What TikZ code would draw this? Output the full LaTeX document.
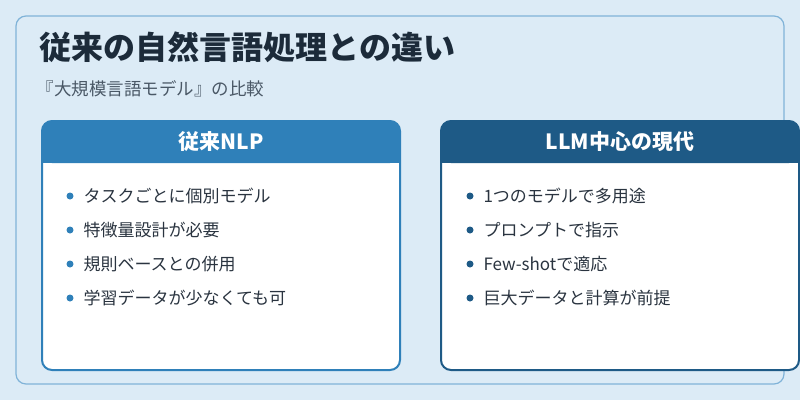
\documentclass[tikz,border=0pt]{standalone}
\usepackage{fontspec}
\setmainfont{Noto Sans CJK JP}
\usetikzlibrary{positioning}
\definecolor{bgblue}{HTML}{DCEBF6}
\definecolor{frameblue}{HTML}{80B3D8}
\definecolor{leftblue}{HTML}{2F80B9}
\definecolor{rightblue}{HTML}{1E5A86}
\definecolor{titleink}{HTML}{1C2B3A}
\definecolor{subink}{HTML}{4A5866}
\definecolor{itemink}{HTML}{2A3440}
\tikzset{
  cardhead/.style={font=\bfseries\fontsize{21}{25}\selectfont, text=white},
  item/.style={anchor=west, font=\fontsize{17}{20}\selectfont, text=itemink},
}
\begin{document}
\begin{tikzpicture}[x=1pt,y=-1pt]
  \fill[bgblue] (0,0) rectangle (800,400);
  \useasboundingbox (0,0) rectangle (800,400);
  \draw[frameblue, line width=1.2pt, rounded corners=10pt] (16,16) rectangle (784,384);

  \node[anchor=west, font=\bfseries\fontsize{32}{38}\selectfont, text=titleink] (title) at (36,47) {従来の自然言語処理との違い};
  \node[anchor=west, font=\fontsize{17.5}{21}\selectfont, text=subink] (sub) at (33,89) {『大規模言語モデル』の比較};

  % left card
  \fill[white, rounded corners=10pt] (42,121) rectangle (400,370);
  \fill[leftblue, rounded corners=10pt] (42,121) rectangle (400,163);
  \fill[leftblue] (42,150) rectangle (400,163);
  \draw[leftblue, line width=2pt, rounded corners=10pt] (42,121) rectangle (400,370);
  \node[cardhead] (lhead) at (221,142) {従来NLP};

  % right card
  \fill[white, rounded corners=10pt] (441,121) rectangle (799,370);
  \fill[rightblue, rounded corners=10pt] (441,121) rectangle (799,163);
  \fill[rightblue] (441,150) rectangle (799,163);
  \draw[rightblue, line width=2pt, rounded corners=10pt] (441,121) rectangle (799,370);
  \node[cardhead] (rhead) at (620,142) {LLM中心の現代};

  \foreach \t [count=\i] in {タスクごとに個別モデル,特徴量設計が必要,規則ベースとの併用,学習データが少なくても可} {
    \fill[leftblue] (70,{162+34*\i}) circle (3.5);
    \node[item] (l\i) at (80,{162+34*\i}) {\t};
  }
  \foreach \t [count=\i] in {1つのモデルで多用途,プロンプトで指示,Few-shotで適応,巨大データと計算が前提} {
    \fill[rightblue] (470,{162+34*\i}) circle (3.5);
    \node[item] (r\i) at (480,{162+34*\i}) {\t};
  }
\end{tikzpicture}
\end{document}
